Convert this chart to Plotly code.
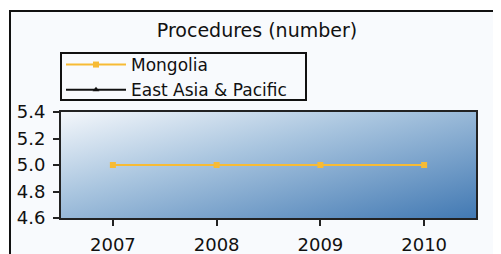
import base64
import plotly.graph_objects as go

# ---- data ----
years = [2007, 2008, 2009, 2010]
mongolia = [5, 5, 5, 5]
east_asia = [None, None, None, None]
y_ticks = [4.6, 4.8, 5.0, 5.2, 5.4]
title_text = "Procedures (number)"

# The page body has an 8px margin, so the figure is drawn at (8, 8).
OFF = 8
W, H = 501 - OFF, 254 - OFF
L, R, T, B = 61 - OFF, 476 - OFF, 112 - OFF, 218 - OFF  # plot area in figure px


def px_x(px):
    """page x pixel -> paper fraction"""
    return (px - OFF - L) / (R - L)


def px_y(py):
    """page y pixel -> paper fraction"""
    return (B - (py - OFF)) / (B - T)


FONT = "DejaVu Sans"
INK = "#111111"

fig = go.Figure()
fig.add_trace(go.Scatter(
    x=years, y=mongolia, name="Mongolia", mode="lines+markers",
    line=dict(color="#f7bb35", width=2),
    marker=dict(symbol="square", size=6, color="#f7bb35"),
))
fig.add_trace(go.Scatter(
    x=years, y=east_asia, name="East Asia & Pacific", mode="lines+markers",
    line=dict(color=INK, width=2),
    marker=dict(symbol="triangle-up", size=6, color=INK),
))

svg = (
    '<svg xmlns="http://www.w3.org/2000/svg" width="415" height="106" '
    'viewBox="0 0 415 106" preserveAspectRatio="none">'
    '<defs><linearGradient id="g" x1="0" y1="0" x2="1" y2="1">'
    '<stop offset="0" stop-color="#f4f7fb"/>'
    '<stop offset="0.4" stop-color="#a9c5df"/>'
    '<stop offset="1" stop-color="#4279b3"/>'
    '</linearGradient></defs>'
    '<rect width="415" height="106" fill="url(#g)"/></svg>'
)
src = "data:image/svg+xml;base64," + base64.b64encode(svg.encode()).decode()

fig.update_layout(
    width=W, height=H,
    margin=dict(l=L, r=W - R, t=T, b=H - B, pad=0, autoexpand=False),
    paper_bgcolor="#f8fafd",
    plot_bgcolor="rgba(0,0,0,0)",
    font=dict(family=FONT, size=18, color=INK),
    title=dict(text=title_text, x=(257 - OFF) / W, xanchor="center",
               y=1 - (30 - OFF) / H, yanchor="middle",
               font=dict(family=FONT, size=19, color=INK)),
    showlegend=True,
    legend=dict(x=px_x(61), y=px_y(47), xanchor="left", yanchor="top",
                bgcolor="rgba(0,0,0,0)", borderwidth=0,
                font=dict(family=FONT, size=17, color=INK),
                itemwidth=60, tracegroupgap=0),
    xaxis=dict(range=[2006.5, 2010.5], tickvals=years, ticktext=[str(y) for y in years],
               showgrid=False, zeroline=False, showline=True, linecolor="#222222",
               linewidth=2, mirror=True, ticks="outside", ticklen=6, tickwidth=2,
               tickcolor="#222222", ticklabelstandoff=3, automargin=False,
               tickfont=dict(size=18)),
    yaxis=dict(range=[4.6, 5.4], tickvals=y_ticks, tickformat=".1f",
               showgrid=False, zeroline=False, showline=True, linecolor="#222222",
               linewidth=2, mirror=True, ticks="outside", ticklen=6, tickwidth=2,
               tickcolor="#222222", ticklabelstandoff=4, automargin=False,
               tickfont=dict(size=18)),
    images=[dict(source=src, xref="paper", yref="paper", x=0, y=1,
                 sizex=1, sizey=1, xanchor="left", yanchor="top",
                 sizing="stretch", layer="below")],
    shapes=[
        # white page area outside the chart frame
        dict(type="rect", xref="paper", yref="paper",
             x0=px_x(-5), x1=px_x(9), y0=px_y(270), y1=px_y(-5),
             fillcolor="white", line=dict(width=0), layer="below"),
        dict(type="rect", xref="paper", yref="paper",
             x0=px_x(-5), x1=px_x(520), y0=px_y(10), y1=px_y(-5),
             fillcolor="white", line=dict(width=0), layer="below"),
        # chart frame
        dict(type="rect", xref="paper", yref="paper",
             x0=px_x(10), x1=px_x(530), y0=px_y(280), y1=px_y(11),
             line=dict(color=INK, width=2), layer="below"),
        # legend frame
        dict(type="rect", xref="paper", yref="paper",
             x0=px_x(61), x1=px_x(306), y0=px_y(100), y1=px_y(53),
             line=dict(color=INK, width=2), layer="below"),
    ],
)

fig.write_html("out.html")
